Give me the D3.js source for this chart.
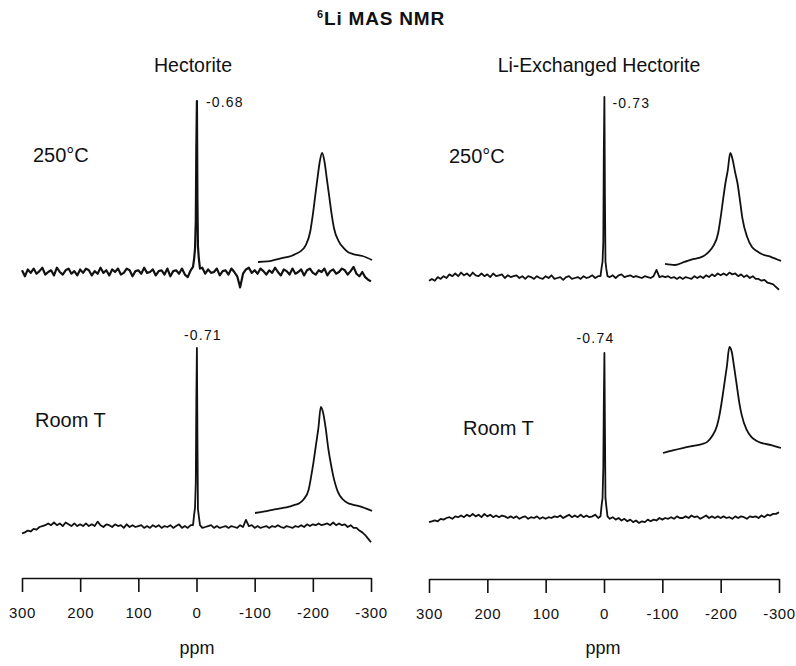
<!DOCTYPE html>
<html><head><meta charset="utf-8">
<script src="https://cdn.jsdelivr.net/npm/d3@7"></script>
<style>body{margin:0;background:#fff}text{font-family:"Liberation Sans",Arial,sans-serif;fill:#111}</style>
</head><body><svg id="c" width="796" height="666"></svg>
<script>
// ---------- data ----------
const ppmTicks = [300, 200, 100, 0, -100, -200, -300];
const sampleNames = ["Hectorite", "Li-Exchanged Hectorite"];
const tempNames = ["250°C", "Room T"];
const peakShift = [-0.68, -0.73, -0.71, -0.74];           // TL, TR, BL, BR
const gridPpm = d3.range(300, -301, -5);                   // baseline sampling (ppm)
const peakPpm = [6, 4, 2.5, 1.2, 0.3, -0.7, -1.6, -2.5, -4, -6];

// baseline intensities (peak height = 100)
const baseTL = [
 1,-2.5,1.5,-0.5,2,-1,0.5,2.5,-1.5,0, 1,-2,2.5,0,-1.5,1,2,-1,0.5,-2,
 1.5,-0.5,2,1,-2,0.5,-1,2.5,-0.5,1, -2,1.5,0,2,-1.5,-0.5,2,1,-2.5,0.5,
 1,-1,2.5,-0.5,0,1.5,-2,0.5,1,-1.5, 2,-2.5,0.5,1,-1,2,-1.5,-3,1,-0.5,
 0,
 -2,2.5,-1,1.5,-0.5,0,2,-2,0.5,1, -1.5,2,0,-2.5,-9,-1,1.5,2.5,-0.5,1,
 -1,2,0.5,-1.5,1,-0.5,2.5,0,-2,1.5, 0.5,-1.5,2,-1,0,1.5,-2,1,2,-0.5,
 -1.5,1,0,2,-2,0.5,1.5,-1,0,2, 1,-1.5,0.5,3,-1,-2.5,0,-3,-4.5,-5.5];
const baseTR = [
 -1.5,-0.5,-1.5,0.5,-0.5,1,0,2,1,2.5, 1,3,1.5,2.5,1,3,1.5,1,2.5,1,
 2,0.5,2.5,1,1.5,2,0,1.5,0.5,1, 1.5,0,1,-0.5,1,0.5,-0.5,1,0,-0.5,
 1,0,1.5,-0.5,0,0.5,-1,0.5,1,-0.5, 0,0.5,-0.5,1,0,0.5,1.5,0,1,-0.5,
 0,
 1,0.5,1.5,0,1.5,2,0.5,1,1.5,0.5, 1,0.5,0,1,0.5,0,1,4.5,0.5,1, 0.5,1,0,0.5,-0.5,0.5,-0.5,0.5,0,-0.5,
 1,0,1,0,1.5,0.5,2,1,2.5,1.5, 2.5,1.5,3,2,2.5,1,2,0.5,1.5,0, 1,-0.5,-0.5,-1.5,-1,-2.5,-3,-3.5,-5,-6.5];
const baseBL = [
 -3.5,-3,-2,-2.5,-1,-1.5,0,0.5,1,2, 1,2.5,1,2,0.5,2.5,1.5,0.5,2,0.5, 1.5,0.5,2,0.5,1.5,0.5,3,1,0,1.5,
 1,0,1.5,0.5,1,-0.5,1.5,0,1,0, 0.5,1,-0.5,0.5,-0.5,1,0,1,-0.5,0.5, 0,1,-0.5,0.5,1.5,-0.5,0.5,-0.5,1,0,
 0,
 0.5,-0.5,0,0.5,1,-0.5,0.5,-0.5,0,0.5, -0.5,0.5,0,-0.5,1,0,4,0.5,1,-0.5, 0.5,-0.5,0,0.5,-0.5,0.5,0,1,0,-0.5,
 0.5,0,-0.5,0.5,0,1,0,1.5,0.5,1.5, 1,2,1,1.5,2,1,2.5,1,2,1, 1.5,0,1,-0.5,-0.5,-2,-3,-4.5,-6.5,-8.5];
const baseBR = [
 -2.5,-2,-1.5,-2,-0.5,-1,0,0.5,-0.5,1, 0.5,1.5,0.5,2,1,2.5,1,2,0.5,2.5, 1,2,0.5,1.5,0.5,1.5,1,0,1,0,
 1,-0.5,0.5,1,-0.5,0.5,0,1,-0.5,0.5, -0.5,0.5,0,1,0.5,1.5,0,1,2,0.5, 1.5,0.5,2,0.5,1.5,0.5,1,2,0,1,
 0,
 0,-0.5,0.5,-1,0,-1.5,-0.5,-2,-1,-2.5, -1.5,-3,-2,-2.5,-1,-2,-1,-1.5,0,-1, 0,-0.5,0.5,-0.5,1,0,0,1,0,1.5,
 0.5,1,-0.5,0.5,1.5,0,1,0,1,0, 1,0,0.5,-0.5,1,0,1,0.5,-0.5,1, 0.5,1,0,1.5,0.5,2,1.5,2.5,2.5,3.5];

// peak intensities at peakPpm
const peakTL = [3, 8, 14, 30, 72, 100, 42, 15, 8, 2];
const peakTR = [1, 6, 9, 20, 70, 100, 45, 9, 5, 1];
const peakBL = [1, 7, 11, 25, 70, 100, 50, 10, 6, 1];
const peakBR = [1, 8, 12, 30, 70, 100, 55, 12, 7, 1];

// expanded insets of the central line
const insetPpm = [6,5,4,3,2.5,2,1.5,1,0.5,0.25,0,-0.25,-0.5,-0.75,-1,-1.25,-1.5,-1.75,-2,-2.5,-3,-3.5,-4,-5,-6];
const insetTL = [0,0.5,2.5,4.5,5.5,7.5,10,15,28,42,59,76,92,100,92,76,60,44,31,19,13,9,7.3,5.5,1.8];
const insetTR = [1,0,2.7,5.4,6.3,8,11.6,17,28.6,42,58,73,85,100,94,83,73,58,42,25,16,12.5,9.8,7.1,3.6];
const insetBL = [0,1.5,3.5,5,6,7.5,9,13,22,34,48,64,80,100,94,80,62,48,36,20,13,9.5,8,5.5,2];
const insetBR = [0,2.5,4.7,6.6,7.5,8.5,10.5,16,26,36,50,66,82,100,95,80,64,48,36,22,15,11.5,9.5,7.5,4.7];

// ---------- layout ----------
const cols = [{x0: 22, x1: 371, axisY: 578, cx: 197}, {x0: 429, x1: 779, axisY: 579, cx: 603}];
const panels = [
  {col: 0, base: baseTL, peak: peakTL, inset: insetTL, y0: 272, y100: 101, sw: 2.2,
   ix: [258, 372], iy: [262, 153], tx: 33, ty: 162, lab: {dx: 9, y: 107, anchor: "start"}, temp: 0},
  {col: 1, base: baseTR, peak: peakTR, inset: insetTR, y0: 278, y100: 97, sw: 1.8,
   ix: [665, 781], iy: [265, 153], tx: 449, ty: 163, lab: {dx: 8, y: 108, anchor: "start"}, temp: 0},
  {col: 0, base: baseBL, peak: peakBL, inset: insetBL, y0: 527, y100: 348, sw: 1.8,
   ix: [255, 372], iy: [513, 407], tx: 35, ty: 427, lab: {dx: 6, y: 340, anchor: "middle"}, temp: 1},
  {col: 1, base: baseBR, peak: peakBR, inset: insetBR, y0: 518, y100: 353, sw: 1.8,
   ix: [663, 781], iy: [453, 347], tx: 463, ty: 435, lab: {dx: -9, y: 343, anchor: "middle"}, temp: 1}
];

const svg = d3.select("#c");

svg.append("text").attr("x", 381).attr("y", 25).attr("text-anchor", "middle")
  .attr("font-size", 19).attr("font-weight", "bold").attr("letter-spacing", 0.8)
  .call(t => { t.append("tspan").attr("font-size", 11).attr("dy", -7).text("6");
               t.append("tspan").attr("dy", 7).text("Li MAS NMR"); });

cols.forEach((c, i) => {
  const x = d3.scaleLinear().domain([300, -300]).range([c.x0, c.x1]);
  c.x = x;
  const ax = svg.append("g").attr("transform", `translate(0,${c.axisY})`)
    .call(d3.axisBottom(x).tickValues(ppmTicks).tickSize(14).tickSizeOuter(0)
      .tickPadding(15).tickFormat(d => String(d)));
  ax.selectAll("path,line").attr("stroke", "#111").attr("stroke-width", 1.6);
  ax.selectAll("text").attr("font-size", 15).attr("letter-spacing", 0.6)
    .attr("font-family", '"Liberation Sans",Arial,sans-serif').attr("fill", "#111");
  svg.append("text").attr("x", c.cx).attr("y", 654).attr("text-anchor", "middle")
    .attr("font-size", 18).text("ppm");
  svg.append("text").attr("x", c.cx - 4).attr("y", 72).attr("text-anchor", "middle")
    .attr("font-size", 19.5).text(sampleNames[i]);
});

panels.forEach((p, k) => {
  const x = cols[p.col].x;
  const y = d3.scaleLinear().domain([0, 100]).range([p.y0, p.y100]);
  const pts = gridPpm.map((v, i) => [v, p.base[i]]).filter(d => Math.abs(d[0]) > 6.5)
    .concat(peakPpm.map((v, i) => [v, p.peak[i]]))
    .sort((a, b) => b[0] - a[0]);
  svg.append("path").datum(pts)
    .attr("d", d3.line().x(d => x(d[0])).y(d => y(d[1])))
    .attr("fill", "none").attr("stroke", "#111").attr("stroke-width", p.sw)
    .attr("stroke-linejoin", "round");

  const ixs = d3.scaleLinear().domain([6, -6]).range(p.ix);
  const iys = d3.scaleLinear().domain([0, 100]).range(p.iy);
  svg.append("path").datum(insetPpm.map((v, i) => [v, p.inset[i]]))
    .attr("d", d3.line().curve(d3.curveMonotoneX).x(d => ixs(d[0])).y(d => iys(d[1])))
    .attr("fill", "none").attr("stroke", "#111").attr("stroke-width", 1.8)
    .attr("stroke-linejoin", "round");

  svg.append("text").attr("x", x(peakShift[k]) + p.lab.dx).attr("y", p.lab.y)
    .attr("text-anchor", p.lab.anchor).attr("font-size", 14).attr("letter-spacing", 1.2)
    .text(peakShift[k].toFixed(2));

  svg.append("text").attr("x", p.tx).attr("y", p.ty).attr("font-size", 20)
    .text(tempNames[p.temp]);
});
</script></body></html>
